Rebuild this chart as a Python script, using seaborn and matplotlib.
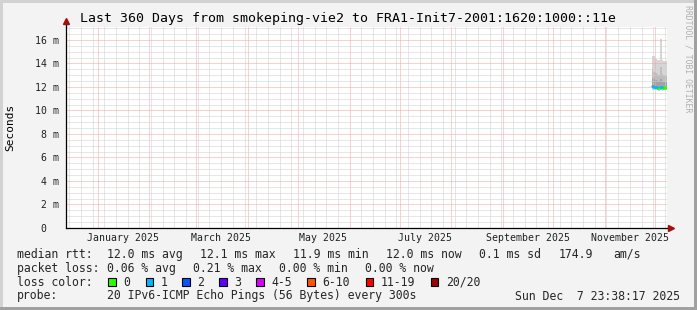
import numpy as np
import pandas as pd
import matplotlib
matplotlib.use("Agg")
import matplotlib.pyplot as plt
import matplotlib.dates as mdates
from matplotlib.patches import Rectangle
from matplotlib.ticker import MultipleLocator, FixedLocator, NullFormatter
import seaborn as sns

# ---------------- data ----------------
days = ["2025-11-29", "2025-11-30", "2025-12-01", "2025-12-02", "2025-12-03",
        "2025-12-04", "2025-12-05", "2025-12-06", "2025-12-07"]
median_ms = [12.05, 12.0, 12.0, 11.95, 11.95, 12.0, 11.95, 11.95, 12.0]
min_ms = [11.75, 11.7, 11.7, 11.7, 11.65, 11.7, 11.65, 11.7, 11.7]
p25_ms = [11.9, 11.9, 11.85, 11.85, 11.8, 11.85, 11.8, 11.85, 11.85]
p75_ms = [12.8, 12.7, 12.6, 12.5, 12.5, 12.7, 12.5, 12.4, 12.4]
p90_ms = [13.5, 13.3, 13.2, 13.1, 13.0, 13.7, 13.1, 13.0, 12.9]
max_ms = [14.6, 14.6, 14.4, 14.3, 14.3, 16.1, 14.3, 14.2, 14.2]
loss_pings = [1, 1, 1, 0, 0, 1, 0, 0, 0]

loss_labels = ["0", "1", "2", "3", "4-5", "6-10", "11-19", "20/20"]
loss_colors = ["#26ff00", "#00b8ff", "#0059ff", "#5e00ff", "#dd00ff",
               "#ff5500", "#ff0000", "#a10000"]

month_labels = ["January 2025", "March 2025", "May 2025", "July 2025",
                "September 2025", "November 2025"]
month_label_dates = ["2025-01-16", "2025-03-16", "2025-05-16", "2025-07-16",
                     "2025-09-16", "2025-11-16"]
ytick_vals = [0, 2, 4, 6, 8, 10, 12, 14, 16]
ytick_labels = ["0  ", "2 m", "4 m", "6 m", "8 m", "10 m", "12 m", "14 m", "16 m"]

title = "Last 360 Days from smokeping-vie2 to FRA1-Init7-2001:1620:1000::11e"
end_time = "2025-12-07 23:38:17"
span_days = 360

rtt_items = ["median rtt:", "12.0 ms avg", "12.1 ms max", "11.9 ms min",
             "12.0 ms now", "0.1 ms sd", "174.9", "am/s"]
loss_items = ["packet loss:", "0.06 % avg", "0.21 % max", "0.00 % min", "0.00 % now"]
probe_items = ["probe:", "20 IPv6-ICMP Echo Pings (56 Bytes) every 300s"]
stamp = "Sun Dec  7 23:38:17 2025"

# ---------------- layout (pixels) ----------------
W, H = 697, 310
AX_L, AX_R, AX_T, AX_B = 66, 666.5, 27, 228
MONO = "DejaVu Sans Mono"

sns.set_theme(style="white")
plt.rcParams["font.family"] = [MONO, "DejaVu Sans"]

fig = plt.figure(figsize=(W / 100, H / 100), dpi=100)
BACK = "#f3f3f3"
fig.patch.set_facecolor(BACK)


def fx(px):
    return px / W


def fy(py):
    return 1 - py / H


# 3D-ish frame
fig.patches.append(Rectangle((0, fy(3)), 1, 3 / H, transform=fig.transFigure,
                             facecolor="#d2d2d2", edgecolor="none", zorder=0))
fig.patches.append(Rectangle((0, 0), 3 / W, 1, transform=fig.transFigure,
                             facecolor="#d2d2d2", edgecolor="none", zorder=0))
fig.patches.append(Rectangle((0, 0), 1, 3 / H, transform=fig.transFigure,
                             facecolor="#a0a0a0", edgecolor="none", zorder=0))
fig.patches.append(Rectangle((fx(W - 3), 0), 3 / W, 1, transform=fig.transFigure,
                             facecolor="#a0a0a0", edgecolor="none", zorder=0))

ax = fig.add_axes([fx(AX_L), fy(AX_B), (AX_R - AX_L) / W, (AX_B - AX_T) / H])
ax.set_facecolor("white")

t_end = pd.Timestamp(end_time)
t_start = t_end - pd.Timedelta(days=span_days)
x0, x1 = mdates.date2num(t_start), mdates.date2num(t_end)

# step edges for the smoke
starts = mdates.date2num(pd.to_datetime(days))
edges = np.append(starts, min(starts[-1] + 1, x1))


def stepy(v):
    v = np.asarray(v, dtype=float)
    return np.append(v, v[-1])


ax.fill_between(edges, stepy(min_ms), stepy(max_ms), step="post",
                color="#d6d6d6", linewidth=0, zorder=1)
ax.fill_between(edges, stepy(p25_ms), stepy(p90_ms), step="post",
                color="#bdbdbd", linewidth=0, zorder=1.1)
ax.fill_between(edges, stepy(p25_ms), stepy(p75_ms), step="post",
                color="#a3a3a3", linewidth=0, zorder=1.2)


def loss_bin(n):
    if n <= 3:
        return loss_labels[n]
    if n <= 5:
        return "4-5"
    if n <= 10:
        return "6-10"
    if n <= 19:
        return "11-19"
    return "20/20"


rows = []
for i, d in enumerate(days):
    for xx in (edges[i], edges[i + 1]):
        rows.append({"t": xx, "median": median_ms[i], "seg": i,
                     "loss": loss_bin(loss_pings[i])})
df = pd.DataFrame(rows)
sns.lineplot(data=df, x="t", y="median", hue="loss", units="seg",
             estimator=None, palette=dict(zip(loss_labels, loss_colors)),
             hue_order=loss_labels, linewidth=1.8, legend=False, ax=ax, zorder=3)

ax.set_xlim(x0, x1)
ax.set_ylim(0, 17.1)
ax.set_xlabel("")
ax.set_ylabel("")

# grid
ax.xaxis.set_major_locator(mdates.MonthLocator(bymonthday=1))
ax.xaxis.set_minor_locator(mdates.WeekdayLocator(byweekday=mdates.SU))
ax.xaxis.set_major_formatter(NullFormatter())
ax.yaxis.set_major_locator(FixedLocator(ytick_vals))
ax.yaxis.set_minor_locator(MultipleLocator(0.5))
ax.set_yticklabels(ytick_labels)
ax.set_axisbelow(False)
ax.grid(which="minor", color="#cfcfcf", linestyle=(0, (1, 1)), linewidth=0.72)
ax.grid(which="major", color="#f4a4a4", linestyle=(0, (1, 1)), linewidth=0.72)
ax.tick_params(which="minor", length=0)
ax.tick_params(axis="both", which="major", length=2, width=0.72, color="#505050",
               direction="out", labelsize=7.15, pad=3)
ax.tick_params(axis="y", which="major", colors="#202020", color="#e08080")

for s in ("top", "right"):
    ax.spines[s].set_visible(False)
for s in ("left", "bottom"):
    ax.spines[s].set_color("black")
    ax.spines[s].set_linewidth(0.9)
    ax.spines[s].set_zorder(4)

# axis arrows
ax.plot([0, 0], [1, 1.02], transform=ax.transAxes, color="black", lw=0.9,
        clip_on=False, zorder=4)
ax.plot([1, 1.004], [0, 0], transform=ax.transAxes, color="black", lw=0.9,
        clip_on=False, zorder=4)
ax.plot([0], [1.03], marker="^", markersize=4.5, color="#a01010",
        transform=ax.transAxes, clip_on=False, zorder=5)
ax.plot([1.008], [0], marker=">", markersize=4.5, color="#a01010",
        transform=ax.transAxes, clip_on=False, zorder=5)

# month labels
for lab, d in zip(month_labels, month_label_dates):
    ax.text(mdates.date2num(pd.Timestamp(d)), (AX_B - 237.7) / (AX_B - AX_T), lab,
            transform=ax.get_xaxis_transform(), ha="center", va="center",
            fontsize=7.15, color="#202020", family=MONO)

# texts
fig.text(fx(347.5), fy(18.5), title, ha="center", va="center", fontsize=9.55,
         family=MONO, color="black")
fig.text(fx(10), fy(127), "Seconds", rotation=90, ha="center", va="center",
         fontsize=8.0, family=MONO, color="black")
fig.text(fx(688), fy(59), "RRDTOOL / TOBI OETIKER", rotation=270, ha="center",
         va="center", fontsize=5.9, family=MONO, color="#b0b0b0")

LEG = 8.3
rtt_x = [16.7, 107.3, 200, 292.7, 386, 479.3, 558.3, 613.3]
for s, xx in zip(rtt_items, rtt_x):
    fig.text(fx(xx), fy(254.3), s, ha="left", va="center", fontsize=LEG, family=MONO)
loss_x = [16.7, 107.3, 193.3, 279.3, 365]
for s, xx in zip(loss_items, loss_x):
    fig.text(fx(xx), fy(268.3), s, ha="left", va="center", fontsize=LEG, family=MONO)

fig.text(fx(16.7), fy(282.3), "loss color:", ha="left", va="center", fontsize=LEG,
         family=MONO)
box_x = [108.3, 145.7, 182.3, 219.3, 256, 307.3, 365.7, 430.7]
for lab, col, bx in zip(loss_labels, loss_colors, box_x):
    fig.patches.append(Rectangle((fx(bx), fy(286)), 7.5 / W, 7.7 / H,
                                 transform=fig.transFigure, facecolor=col,
                                 edgecolor="black", linewidth=0.8, zorder=3))
    fig.text(fx(bx + 15), fy(282.3), lab, ha="left", va="center", fontsize=LEG,
             family=MONO)

fig.text(fx(16.7), fy(296), probe_items[0], ha="left", va="center", fontsize=LEG,
         family=MONO)
fig.text(fx(107.3), fy(296), probe_items[1], ha="left", va="center", fontsize=LEG,
         family=MONO)
fig.text(fx(680), fy(296), stamp, ha="right", va="center", fontsize=LEG, family=MONO)

fig.savefig("out.png", dpi=100, facecolor=BACK)
